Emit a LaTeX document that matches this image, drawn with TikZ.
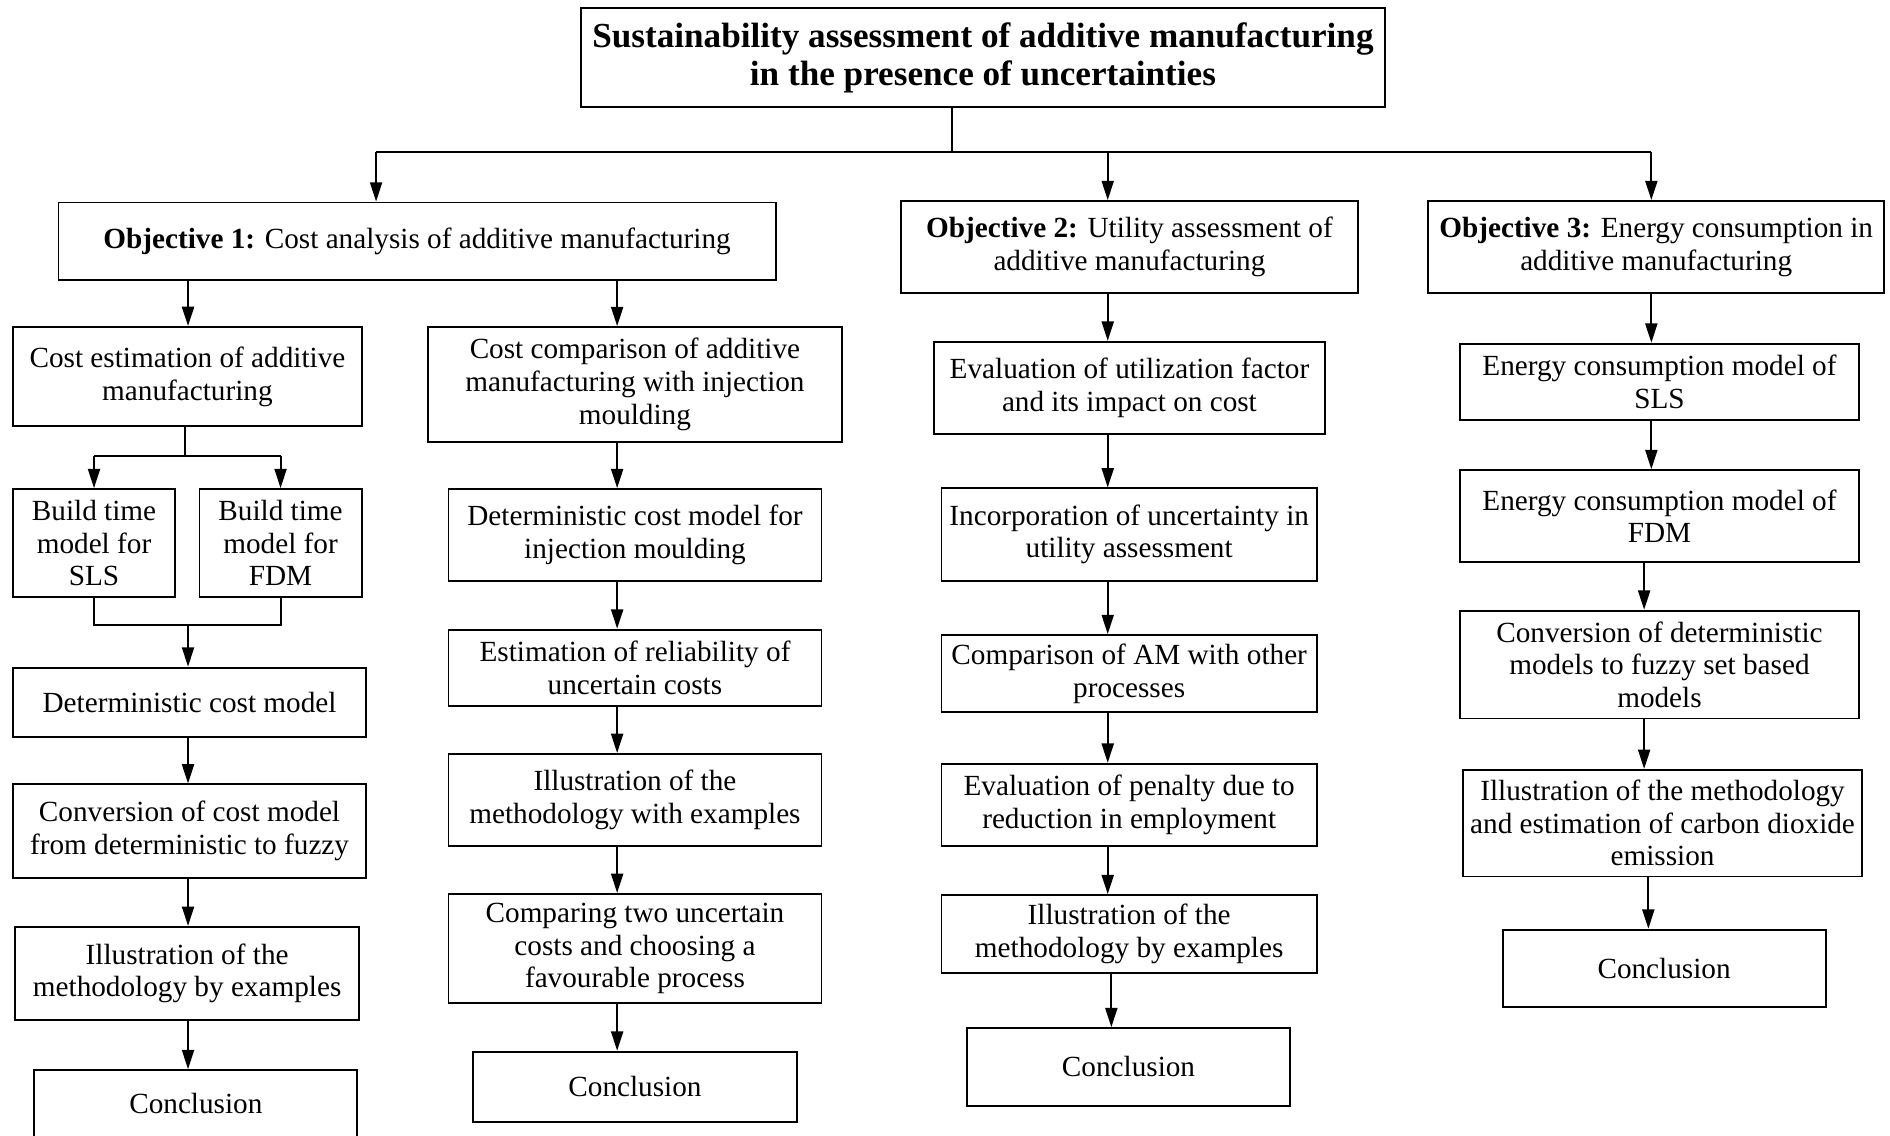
\documentclass[tikz,border=0pt]{standalone}
\usepackage{fontspec}
\setmainfont{Liberation Serif}
\usetikzlibrary{arrows.meta}

\begin{document}
\begin{tikzpicture}[x=0.02cm,y=-0.02cm,
    box/.style={draw=black,line width=0.9pt,align=center,inner sep=0pt,
        font=\fontsize{13.8}{15.4}\selectfont},
    arr/.style={line width=0.9pt,-{Triangle[length=3.2mm,width=2mm]}},
    link/.style={line width=0.9pt}]
    \useasboundingbox (0,0) rectangle (1568,942);

    \node[box,minimum width=13.34cm,minimum height=1.64cm,
        font=\fontsize{16.6}{18.2}\selectfont\bfseries] (title) at (815.5,48)
        {Sustainability assessment of additive manufacturing\\in the presence of uncertainties};

    \node[box,minimum width=11.9cm,minimum height=1.28cm] (obj1) at (346,200)
        {\textbf{Objective 1:} Cost analysis of additive manufacturing};
    \node[box,minimum width=7.58cm,minimum height=1.53cm] (obj2) at (937,205)
        {\textbf{Objective 2:} Utility assessment of\\additive manufacturing};
    \node[box,minimum width=7.56cm,minimum height=1.53cm] (obj3) at (1374,205)
        {\textbf{Objective 3:} Energy consumption in\\additive manufacturing};

    \coordinate (bus) at (790,126);
    \coordinate (busl) at (312,126);
    \coordinate (busr) at (1370,126);
    \coordinate (c1) at (156,0);
    \coordinate (c2) at (512,0);
    \coordinate (c3) at (919,0);
    \coordinate (c4) at (1370,0);
    \coordinate (c4b) at (1364,0);

    \draw[link] (title.south -| bus) -- (bus);
    \draw[link] (busl) -- (busr);
    \draw[arr] (busl) -- (obj1.north -| busl);
    \draw[arr] (bus -| c3) -- (obj2.north -| c3);
    \draw[arr] (busr) -- (obj3.north -| busr);

    % objective 1, left branch
    \node[box,minimum width=5.78cm,minimum height=1.65cm] (costest) at (155.5,312.5)
        {Cost estimation of additive\\manufacturing};
    \node[box,minimum width=2.68cm,minimum height=1.79cm] (bsls) at (78,450.5)
        {Build time\\model for\\SLS};
    \node[box,minimum width=2.69cm,minimum height=1.79cm] (bfdm) at (232.75,450.5)
        {Build time\\model for\\FDM};
    \node[box,minimum width=5.85cm,minimum height=1.15cm] (detcost) at (157.25,582.6)
        {Deterministic cost model};
    \node[box,minimum width=5.85cm,minimum height=1.55cm] (conv) at (157.25,689.5)
        {Conversion of cost model\\from deterministic to fuzzy};
    \node[box,minimum width=5.71cm,minimum height=1.54cm] (illus1) at (155.25,807.4)
        {Illustration of the\\methodology by examples};
    \node[box,minimum width=5.36cm,minimum height=1.4cm,text depth=8pt,anchor=north] (concl1) at (162.5,887)
        {Conclusion};

    \coordinate (sp) at (153.5,378);
    \coordinate (mg) at (156,518.7);
    \draw[arr] (obj1.south -| c1) -- (costest.north -| c1);
    \draw[link] (costest.south -| sp) -- (sp);
    \draw[link] (bsls |- sp) -- (bfdm |- sp);
    \draw[arr] (bsls |- sp) -- (bsls.north);
    \draw[arr] (bfdm |- sp) -- (bfdm.north);
    \draw[link] (bsls.south) -- (bsls |- mg) -- (bfdm |- mg) -- (bfdm.south);
    \draw[arr] (mg) -- (detcost.north -| mg);
    \draw[arr] (detcost.south -| c1) -- (conv.north -| c1);
    \draw[arr] (conv.south -| c1) -- (illus1.north -| c1);
    \draw[arr] (illus1.south -| c1) -- (concl1.north -| c1);

    % objective 1, right branch
    \node[box,minimum width=6.87cm,minimum height=1.9cm] (costcomp) at (526.75,318.85)
        {Cost comparison of additive\\manufacturing with injection\\moulding};
    \node[box,minimum width=6.19cm,minimum height=1.52cm] (detinj) at (526.8,443.75)
        {Deterministic cost model for\\injection moulding};
    \node[box,minimum width=6.19cm,minimum height=1.26cm] (reliab) at (526.8,553.85)
        {Estimation of reliability of\\uncertain costs};
    \node[box,minimum width=6.19cm,minimum height=1.53cm] (illus2) at (526.8,663.75)
        {Illustration of the\\methodology with examples};
    \node[box,minimum width=6.19cm,minimum height=1.81cm] (compare) at (526.8,786.85)
        {Comparing two uncertain\\costs and choosing a\\favourable process};
    \node[box,minimum width=5.37cm,minimum height=1.17cm] (concl2) at (526.8,901.75)
        {Conclusion};

    \draw[arr] (obj1.south -| c2) -- (costcomp.north -| c2);
    \draw[arr] (costcomp.south -| c2) -- (detinj.north -| c2);
    \draw[arr] (detinj.south -| c2) -- (reliab.north -| c2);
    \draw[arr] (reliab.south -| c2) -- (illus2.north -| c2);
    \draw[arr] (illus2.south -| c2) -- (compare.north -| c2);
    \draw[arr] (compare.south -| c2) -- (concl2.north -| c2);

    % objective 2
    \node[box,minimum width=6.48cm,minimum height=1.53cm] (evalu) at (937,321.75)
        {Evaluation of utilization factor\\and its impact on cost};
    \node[box,minimum width=6.23cm,minimum height=1.53cm] (incorp) at (936.8,443.45)
        {Incorporation of uncertainty in\\utility assessment};
    \node[box,minimum width=6.23cm,minimum height=1.28cm] (compam) at (936.8,558.8)
        {Comparison of AM with other\\processes};
    \node[box,minimum width=6.23cm,minimum height=1.36cm] (penalty) at (936.8,667.6)
        {Evaluation of penalty due to\\reduction in employment};
    \node[box,minimum width=6.23cm,minimum height=1.29cm] (illus3) at (936.8,774.85)
        {Illustration of the\\methodology by examples};
    \node[box,minimum width=5.37cm,minimum height=1.29cm] (concl3) at (936.25,885.2)
        {Conclusion};

    \draw[arr] (obj2.south -| c3) -- (evalu.north -| c3);
    \draw[arr] (evalu.south -| c3) -- (incorp.north -| c3);
    \draw[arr] (incorp.south -| c3) -- (compam.north -| c3);
    \draw[arr] (compam.south -| c3) -- (penalty.north -| c3);
    \draw[arr] (penalty.south -| c3) -- (illus3.north -| c3);
    \draw[arr] ([xshift=0.06cm]illus3.south -| c3) -- ([xshift=0.06cm]concl3.north -| c3);

    % objective 3
    \node[box,minimum width=6.61cm,minimum height=1.27cm] (esls) at (1376.75,316.85)
        {Energy consumption model of\\SLS};
    \node[box,minimum width=6.61cm,minimum height=1.53cm] (efdm) at (1376.75,428.25)
        {Energy consumption model of\\FDM};
    \node[box,minimum width=6.61cm,minimum height=1.79cm] (convfz) at (1376.75,551.35)
        {Conversion of deterministic\\models to fuzzy set based\\models};
    \node[box,minimum width=6.61cm,minimum height=1.77cm] (illus4) at (1379.3,682.95)
        {Illustration of the methodology\\and estimation of carbon dioxide\\emission};
    \node[box,minimum width=5.36cm,minimum height=1.29cm] (concl4) at (1380.55,803.5)
        {Conclusion};

    \draw[arr] (obj3.south -| c4) -- (esls.north -| c4);
    \draw[arr] (esls.south -| c4) -- (efdm.north -| c4);
    \draw[arr] (efdm.south -| c4b) -- (convfz.north -| c4b);
    \draw[arr] (convfz.south -| c4b) -- (illus4.north -| c4b);
    \draw[arr] ([xshift=0.07cm]illus4.south -| c4b) -- ([xshift=0.07cm]concl4.north -| c4b);
\end{tikzpicture}
\end{document}
